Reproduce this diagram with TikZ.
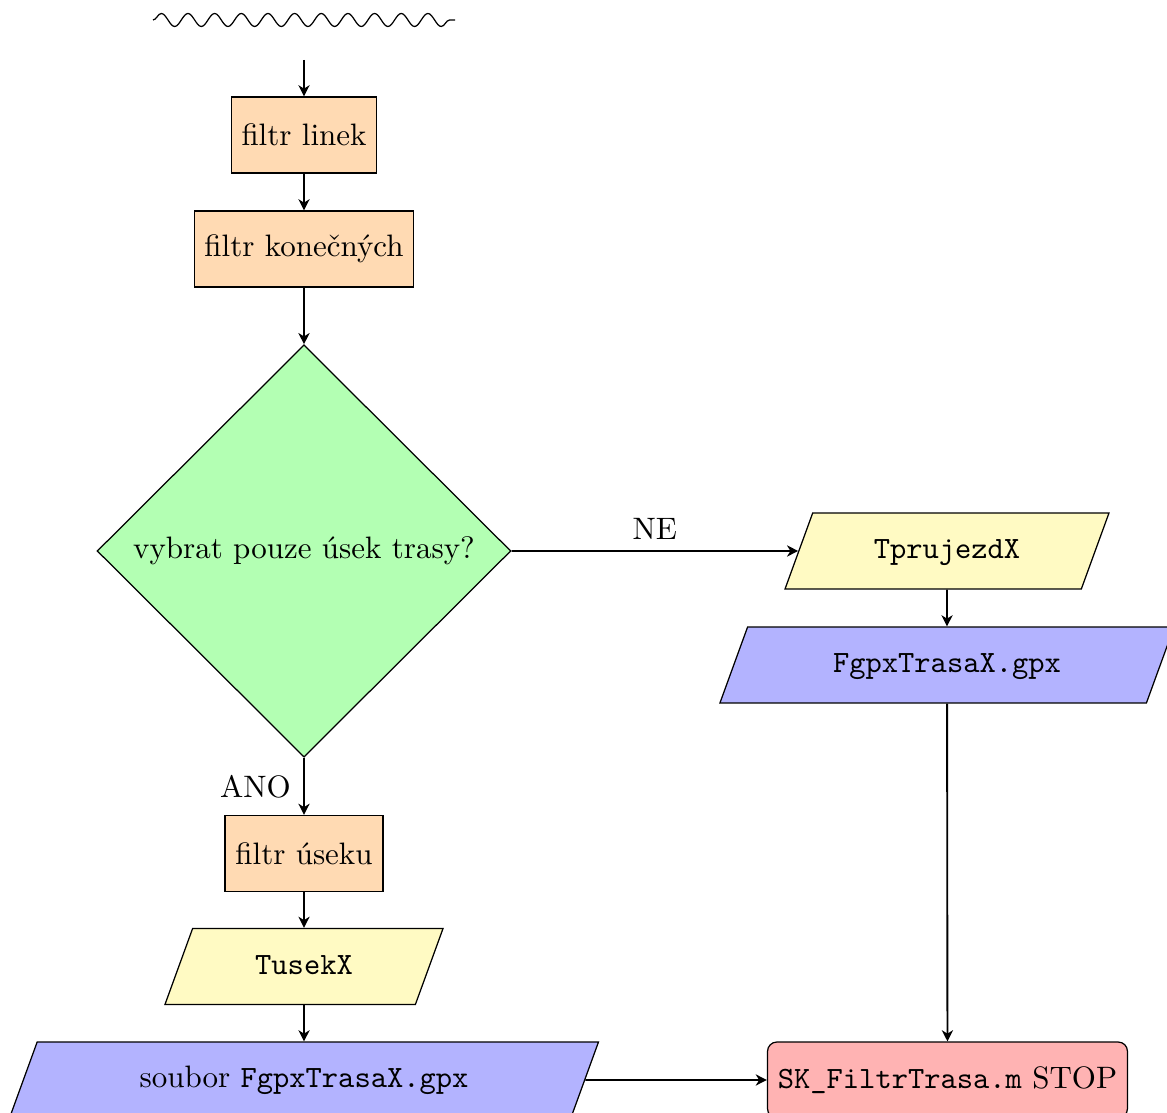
\documentclass[tikz,border=0pt]{standalone}
\usepackage{fontspec}
\usetikzlibrary{shapes.geometric,arrows.meta,decorations.pathmorphing}
\definecolor{procfill}{RGB}{255,218,179}
\definecolor{decfill}{RGB}{179,255,179}
\definecolor{datafill}{RGB}{255,250,195}
\definecolor{filefill}{RGB}{179,179,255}
\definecolor{stopfill}{RGB}{255,179,179}
\tikzset{
  procbox/.style={draw, rectangle, fill=procfill, minimum height=24.5pt},
  decbox/.style={draw, diamond, aspect=1, fill=decfill, inner sep=0pt,
    minimum width=133.5pt, minimum height=133pt},
  databox/.style={draw, trapezium, trapezium left angle=70, trapezium right angle=110,
    trapezium stretches body, text height=7pt, text depth=2pt, inner ysep=7.75pt},
  stopbox/.style={draw, rectangle, rounded corners=3pt, fill=stopfill, minimum height=24.5pt},
  flow/.style={semithick, -{Stealth[length=3.6pt, width=3.6pt, inset=1.1pt]}},
  lbl/.style={inner sep=0pt}
}
\begin{document}
\begin{tikzpicture}[x=0.3226pt, y=-0.3226pt]
  \useasboundingbox (0,0) rectangle (1167,1113);

  % wavy break at the top of the chart
  \coordinate (wa) at (153,20);
  \coordinate (wb) at (455,20);
  \draw[decorate, decoration={snake, segment length=8.6pt, amplitude=2.1pt}] (wa) -- (wb);

  % left column
  \coordinate (in) at (304,60);
  \node[procbox] (linky) at (304,135) {filtr linek};
  \node[procbox] (konec) at (304,249) {filtr konečných};
  \node[decbox] (volba) at (304,551) {vybrat pouze úsek trasy?};
  \node[procbox] (usek) at (304,853.5) {filtr úseku};
  \node[databox, fill=datafill, minimum width=89.7pt] (tusek) at (304,966.5) {\texttt{TusekX}};
  \node[databox, fill=filefill, minimum width=190pt] (soubor) at (304,1080) {soubor \texttt{FgpxTrasaX.gpx}};

  % right column
  \node[databox, fill=datafill, minimum width=104.5pt] (tpruj) at (947,551) {\texttt{TprujezdX}};
  \node[databox, fill=filefill, minimum width=146.5pt] (fgpx) at (947,665) {\texttt{FgpxTrasaX.gpx}};
  \node[stopbox] (stop) at (947.5,1080) {\texttt{SK\_FiltrTrasa.m} STOP};

  % connectors
  \draw[flow] (in) -- (linky);
  \draw[flow] (linky) -- (konec);
  \draw[flow] (konec) -- (volba);
  \draw[flow] (volba.east) -- node[lbl, above=3.4pt] {NE} (tpruj);
  \draw[flow] (volba.south) -- node[lbl, left=4pt] {ANO} (usek);
  \draw[flow] (usek) -- (tusek);
  \draw[flow] (tusek) -- (soubor);
  \draw[flow] (tpruj) -- (fgpx);
  \draw[flow] (fgpx) -- (stop);
  \draw[flow] (soubor) -- (stop);
\end{tikzpicture}
\end{document}
